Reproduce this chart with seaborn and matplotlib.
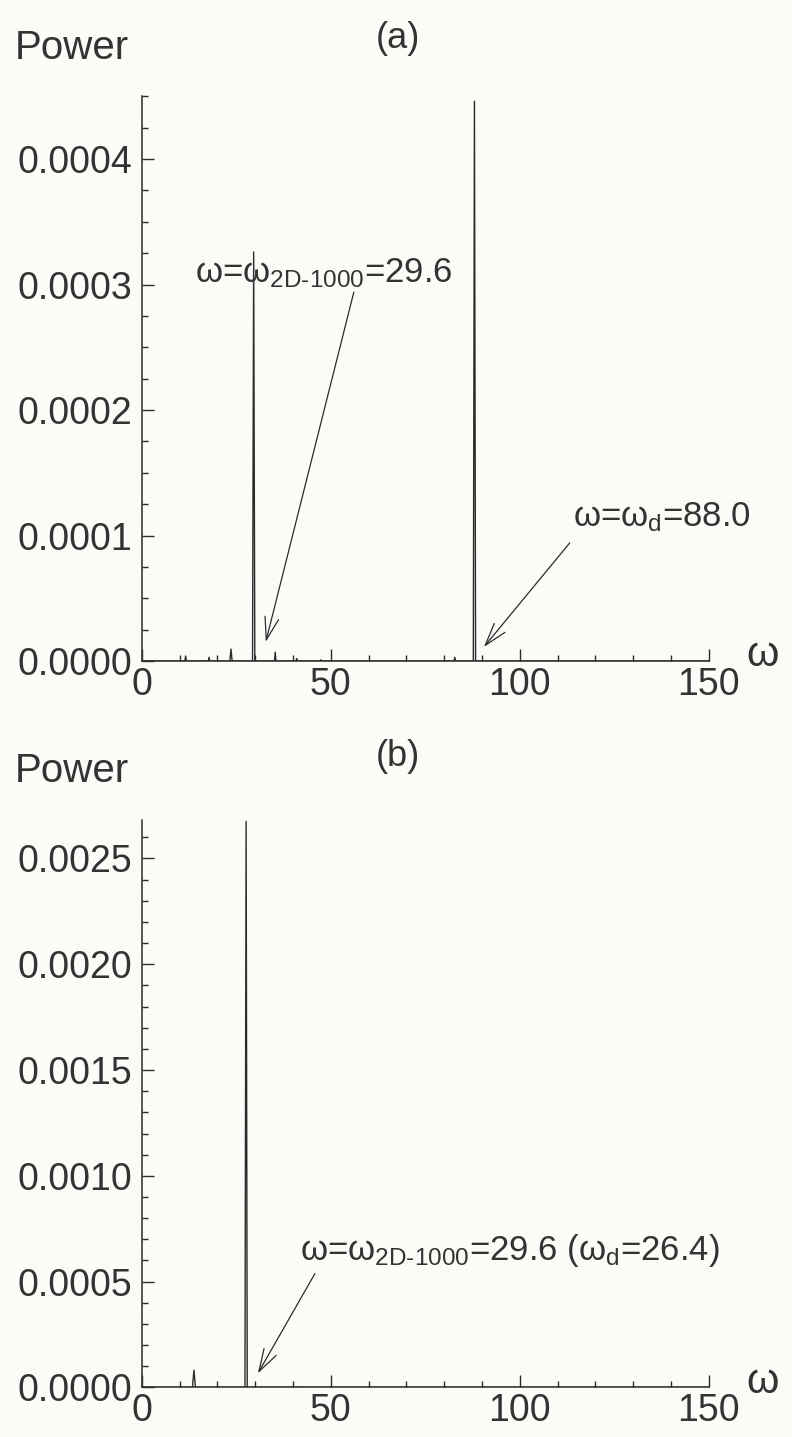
import matplotlib
matplotlib.use('Agg')
import matplotlib.pyplot as plt
import seaborn as sns
import numpy as np
from matplotlib.ticker import MultipleLocator, FormatStrFormatter

# spectrum (a): omega vs power, spikes
omega_a = [0, 11.4, 11.6, 11.8, 17.6, 17.8, 18.0, 23.3, 23.6, 23.9,
           29.3, 29.6, 29.9, 35.1, 35.3, 35.5, 40.8, 41.0, 41.2,
           47.2, 47.4, 47.6, 82.6, 82.8, 83.0, 87.7, 88.0, 88.3, 150]
power_a = [0, 0, 4e-6, 0, 0, 3e-6, 0, 0, 9.5e-6, 0,
           0, 0.000326, 0, 0, 7e-6, 0, 0, 2e-6, 0,
           0, 1e-6, 0, 0, 3e-6, 0, 0, 0.000446, 0, 0]

# spectrum (b)
omega_b = [0, 13.4, 13.8, 14.2, 27.3, 27.6, 27.9, 41.6, 41.8, 42.0, 150]
power_b = [0, 0, 8.2e-5, 0, 0, 0.002675, 0, 0, 3e-6, 0, 0]

ylim_a = 0.00045
ylim_b = 0.00268

sns.set_theme(style='ticks')
plt.rcParams['font.family'] = ['Liberation Sans', 'DejaVu Sans']
plt.rcParams['mathtext.fontset'] = 'custom'
plt.rcParams['mathtext.rm'] = 'Liberation Sans'
plt.rcParams['mathtext.it'] = 'Liberation Sans'

ink = '#2b2b2b'
txt = '#333333'
fig = plt.figure(figsize=(7.92, 14.37), dpi=100, facecolor='#fcfbf8')
ax1 = fig.add_axes([0.179, 0.54, 0.716, 0.393])
ax2 = fig.add_axes([0.179, 0.0345, 0.716, 0.3946])

for ax, om, pw, top, ymaj, ymin in [(ax1, omega_a, power_a, ylim_a, 0.0001, 0.000025),
                                    (ax2, omega_b, power_b, ylim_b, 0.0005, 0.0001)]:
    ax.set_facecolor('none')
    sns.lineplot(x=om, y=pw, ax=ax, color=ink, linewidth=1.0)
    ax.set_xlim(0, 150)
    ax.set_ylim(0, top)
    for s in ['top', 'right']:
        ax.spines[s].set_visible(False)
    for s in ['left', 'bottom']:
        ax.spines[s].set_linewidth(1.1)
        ax.spines[s].set_color(ink)
    ax.xaxis.set_major_locator(MultipleLocator(50))
    ax.xaxis.set_minor_locator(MultipleLocator(10))
    ax.yaxis.set_major_locator(MultipleLocator(ymaj))
    ax.yaxis.set_minor_locator(MultipleLocator(ymin))
    ax.yaxis.set_major_formatter(FormatStrFormatter('%.4f'))
    ax.tick_params(which='both', direction='in', color=ink, width=1.0,
                   labelsize=27, labelcolor=txt)
    ax.tick_params(which='major', length=8.5)
    ax.tick_params(which='minor', length=4)
    ax.tick_params(axis='x', pad=4)
    ax.tick_params(axis='y', pad=7)
    ax.set_xlabel('')
    ax.set_ylabel('')
    ax.text(1.095, 0.01, 'ω', transform=ax.transAxes, fontsize=30,
            color=txt, ha='center', va='center')

arr = dict(arrowstyle='->,head_length=0.65,head_width=0.2', color=ink, lw=0.9,
           shrinkA=0, shrinkB=0)

# annotations panel (a)
ax1.annotate('', xy=(32.8, 0.0000152), xytext=(56.1, 0.000294), arrowprops=arr,
             fontsize=25)
ax1.text(48.1, 0.000309, r'ω=ω$_{\text{2D-1000}}$=29.6', fontsize=25,
         color=txt, ha='center', va='center')
ax1.annotate('', xy=(90.5, 0.0000112), xytext=(113.2, 0.0000941), arrowprops=arr,
             fontsize=25)
ax1.text(137.6, 0.000115, r'ω=ω$_{\text{d}}$=88.0', fontsize=25,
         color=txt, ha='center', va='center')

# annotation panel (b)
ax2.annotate('', xy=(30.7, 0.000066), xytext=(45.8, 0.000538), arrowprops=arr,
             fontsize=25)
ax2.text(97.4, 0.000648, r'ω=ω$_{\text{2D-1000}}$=29.6 (ω$_{\text{d}}$=26.4)',
         fontsize=25, color=txt, ha='center', va='center')

fig.text(15/792, 1-48/1437, 'Power', fontsize=29, color=txt, ha='left', va='center')
fig.text(15/792, 1-771/1437, 'Power', fontsize=29, color=txt, ha='left', va='center')
fig.text(398/792, 1-38/1437, '(a)', fontsize=26, color=txt, ha='center', va='center')
fig.text(398/792, 1-757/1437, '(b)', fontsize=26, color=txt, ha='center', va='center')

fig.savefig('out.png', dpi=100, facecolor=fig.get_facecolor())
